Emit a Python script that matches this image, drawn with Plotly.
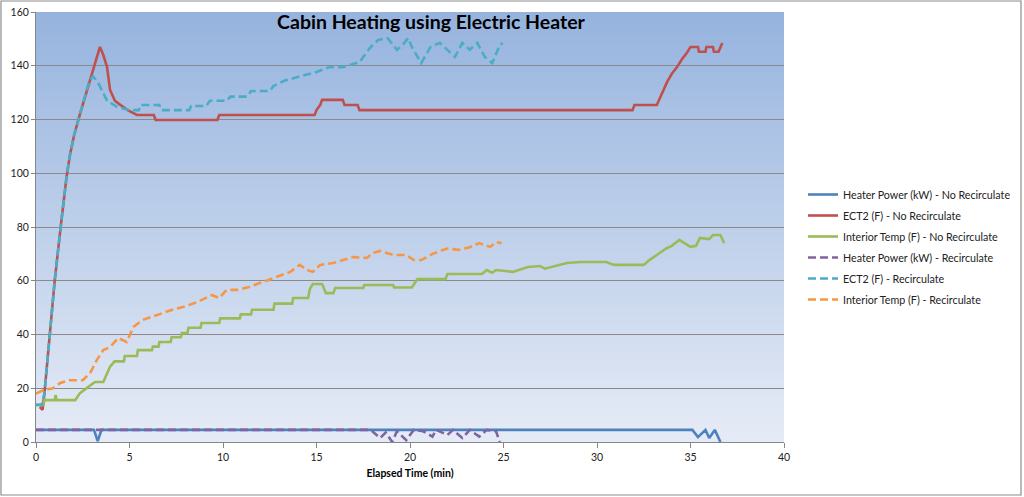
import plotly.graph_objects as go

# ---------------- data ----------------
hp_nr_t = [0, 3.1, 3.3, 3.5, 35.1, 35.4, 35.8, 36.0, 36.3, 36.6]
hp_nr_v = [4.5, 4.5, 0.3, 4.5, 4.5, 1.8, 4.5, 1.5, 4.5, 0]

ect_nr_t = [0.2, 0.35, 0.45, 0.6, 0.8, 1.0, 1.32, 1.64, 1.82, 2.05, 2.35, 2.6, 2.89, 3.2, 3.42,
            3.6, 3.8, 3.96, 4.1, 4.22, 4.4, 4.6, 4.9, 5.4, 6.3, 6.4, 9.7, 9.8, 14.9, 15.0, 15.2,
            15.3, 16.4, 16.5, 17.2, 17.3, 31.9, 32.0, 33.2, 33.3, 33.5, 33.75, 34.0, 34.28, 34.55,
            34.8, 35.0, 35.4, 35.45, 35.8, 35.85, 36.2, 36.25, 36.5, 36.7]
ect_nr_v = [13, 12, 18, 29, 45, 60, 80, 99, 107, 114.5, 122, 128, 135, 141.5, 147,
            144, 139.5, 131, 129, 127, 126, 125, 123.5, 121.7, 121.7, 119.8, 119.8, 121.7, 121.7, 123.5, 125.4,
            127.3, 127.3, 125.4, 125.4, 123.5, 123.5, 125.4, 125.4, 127, 130, 134, 137, 139.5, 142.5,
            144.7, 147, 147, 145.2, 145.2, 147, 147, 145.2, 145.2, 148.5]

int_nr_t = [0, 0.4, 0.45, 1.0, 1.05, 1.1, 2.1, 2.35, 2.8, 3.15, 3.6, 3.8, 3.96, 4.2, 4.7, 4.75,
            5.4, 5.45, 6.2, 6.25, 6.55, 6.6, 7.2, 7.25, 7.75, 7.8, 8.1, 8.15, 8.8, 8.85, 9.8, 9.85,
            10.9, 10.95, 11.5, 11.55, 12.7, 12.75, 13.7, 13.75, 14.55, 14.65, 14.8, 15.3, 15.5, 15.9,
            16.0, 17.5, 17.55, 19.1, 19.15, 20.1, 20.4, 21.9, 22.0, 23.85, 24.1, 24.4, 24.6, 25.5,
            26.3, 26.95, 27.2, 28.4, 29.1, 30.5, 30.9, 32.5, 32.8, 33.2, 33.7, 34.0, 34.4, 35.0,
            35.3, 35.5, 36.0, 36.2, 36.6, 36.8]
int_nr_v = [13.8, 13.8, 15.6, 15.6, 17.5, 15.6, 15.6, 18.2, 20.5, 22.3, 22.3, 25.7, 28, 30, 30, 32,
            32, 34.2, 34.2, 35.5, 35.5, 37.2, 37.2, 39, 39, 40.5, 40.5, 42.5, 42.5, 44.3, 44.3, 46,
            46, 47.5, 47.5, 49.2, 49.2, 51.5, 51.5, 53.6, 53.6, 57, 58.8, 58.8, 55.4, 55.4,
            57.3, 57.3, 58.4, 58.4, 57.5, 57.5, 60.6, 60.6, 62.5, 62.5, 64, 63, 64, 63.3,
            65.1, 65.5, 64.5, 66.6, 67, 67, 65.9, 65.9, 67.7, 69.6, 72, 73, 75.2, 72.6,
            73, 75.9, 75.5, 77, 77, 74]

hp_r_t = [0, 17.9, 18.4, 18.7, 19.05, 19.3, 19.8, 20.2, 20.7, 21.2, 21.4, 22.0, 22.3, 22.8,
          23.2, 23.7, 24.1, 24.6, 24.8]
hp_r_v = [4.5, 4.5, 1.5, 3.5, 0, 4, 0.7, 4.5, 4, 2, 4.5, 2.6, 4.5, 1.5,
          4.5, 2, 4.5, 4, 0]

ect_r_t = [0, 0.3, 0.45, 0.6, 0.8, 1.0, 1.32, 1.64, 1.82, 2.05, 2.35, 2.6, 2.85, 3.05, 3.3, 3.55,
           3.8, 4.33, 5.0, 5.5, 5.6, 6.6, 6.7, 8.2, 8.3, 9.1, 9.3, 10.2, 10.4, 11.3, 11.5, 12.5,
           12.7, 13.3, 14.1, 15.0, 15.7, 16.4, 17.3, 17.9, 18.3, 18.8, 19.3, 19.6, 19.9, 20.1,
           20.6, 21.1, 21.6, 22.0, 22.4, 22.8, 23.2, 23.6, 24.0, 24.4, 24.8, 24.95]
ect_r_v = [13.8, 13.8, 18, 29, 45, 60, 80, 99, 107, 114.5, 122, 128.5, 134.5, 136, 134, 130.5,
           127, 124.7, 123.5, 123.5, 125.4, 125.4, 123.5, 123.5, 125, 125, 127, 127, 128.5, 128.5, 130.6, 130.6,
           132.5, 134.5, 136, 137.7, 139.5, 139.5, 141.4, 147, 149.6, 150.3, 145.9, 147.7, 150.3, 147,
           141, 147, 148.5, 146, 143.3, 148.5, 146, 148.5, 143.3, 141, 147.7, 148.5]

int_r_t = [0, 0.4, 0.9, 1.3, 1.8, 2.5, 2.9, 3.25, 3.6, 3.96, 4.4, 4.85, 5.2, 5.7, 6.5, 7.2, 7.9,
           8.6, 9.4, 9.8, 10.2, 10.75, 11.4, 12.1, 12.9, 13.6, 14.1, 14.5, 14.8, 15.2, 15.9, 16.4,
           16.95, 17.7, 18.0, 18.4, 19.1, 19.8, 20.2, 20.6, 21.2, 22.0, 22.6, 23.2, 23.7, 24.3,
           24.6, 24.9]
int_r_v = [18, 19.3, 20, 22, 23, 23, 25.7, 30.5, 34.2, 35.3, 38.7, 37.2, 42.8, 45.4, 47.3, 49, 50.3,
           52, 54.7, 53.6, 56.6, 56.6, 57.7, 59.5, 61.4, 63.3, 65.9, 64, 63.3, 65.9, 66.6, 67.7,
           68.8, 68.5, 70.3, 71.1, 69.6, 69.6, 67.7, 67.7, 70, 72, 71.5, 72.5, 74, 72.6,
           74.4, 74]

series = [
    ("Heater Power (kW) - No Recirculate", hp_nr_t, hp_nr_v, "#4F81BD", "solid"),
    ("ECT2 (F) - No Recirculate", ect_nr_t, ect_nr_v, "#C0504D", "solid"),
    ("Interior Temp (F) - No Recirculate", int_nr_t, int_nr_v, "#9BBB59", "solid"),
    ("Heater Power (kW) - Recirculate", hp_r_t, hp_r_v, "#8064A2", "8px,4px"),
    ("ECT2 (F) - Recirculate", ect_r_t, ect_r_v, "#4BACC6", "8px,4px"),
    ("Interior Temp (F) - Recirculate", int_r_t, int_r_v, "#F79646", "8px,4px"),
]

x_ticks = [0, 5, 10, 15, 20, 25, 30, 35, 40]
y_ticks = [0, 20, 40, 60, 80, 100, 120, 140, 160]

# ---------------- figure ----------------
W, H = 1024, 497
L, R, T, B = 36, 240, 12, 55
pw, ph = W - L - R, H - T - B

fig = go.Figure()
for name, t, v, col, dash in series:
    fig.add_trace(go.Scatter(x=t, y=v, mode="lines", name=name, legendgroup=name,
                             line=dict(color=col, width=2.6, dash=dash)))

# gradient plot background
shapes = []
n = 60
top = (149, 179, 222)
bot = (229, 235, 246)
for i in range(n):
    f = (i + 0.5) / n
    c = tuple(round(top[k] + (bot[k] - top[k]) * f) for k in range(3))
    y1 = min(1.0, 1 - i / n + 0.6 / n)
    shapes.append(dict(type="rect", xref="paper", yref="paper", x0=0, x1=1,
                       y0=1 - (i + 1) / n, y1=y1, layer="below",
                       line=dict(width=0), fillcolor="rgb(%d,%d,%d)" % c))
# outer chart border
shapes.append(dict(type="rect", xref="paper", yref="paper",
                   x0=(1 - L) / pw, x1=(1021 - L) / pw,
                   y0=(T + ph - 495) / ph, y1=(T + ph - 1) / ph,
                   line=dict(color="#8c8c8c", width=1.2), fillcolor="rgba(0,0,0,0)", layer="below"))

fig.update_layout(
    width=W, height=H,
    margin=dict(l=L, r=R, t=T, b=B, autoexpand=False),
    paper_bgcolor="white",
    plot_bgcolor="rgba(0,0,0,0)",
    shapes=shapes,
    font=dict(family="Lato, Arial, sans-serif", size=10, color="#222"),
    title=dict(text="<b>Cabin Heating using Electric Heater</b>",
               x=431 / W, xanchor="center", y=1 - 22 / H, yanchor="middle",
               font=dict(family="Lato, Arial, sans-serif", size=19.5, color="#000")),
    xaxis=dict(range=[0, 40], tickvals=x_ticks, showgrid=False, zeroline=False,
               showline=True, linecolor="#868686", linewidth=1,
               ticks="outside", ticklen=5, tickcolor="#868686",
               tickfont=dict(size=10.5, color="#222"),
               title=dict(text="<b>Elapsed Time (min)</b>", font=dict(size=10.5, color="#000"), standoff=8)),
    yaxis=dict(range=[0, 160], tickvals=y_ticks, showgrid=True, gridcolor="#8a8a8a", gridwidth=1,
               zeroline=False, showline=True, linecolor="#868686", linewidth=1,
               ticks="outside", ticklen=4, tickcolor="#868686",
               tickfont=dict(size=10.5, color="#222")),
    legend=dict(x=(803 - L) / pw, xanchor="left", y=(T + ph - 180) / ph, yanchor="top",
                bgcolor="rgba(0,0,0,0)", font=dict(size=10.7, color="#222"),
                tracegroupgap=2),
)

fig.write_html("out.html")
